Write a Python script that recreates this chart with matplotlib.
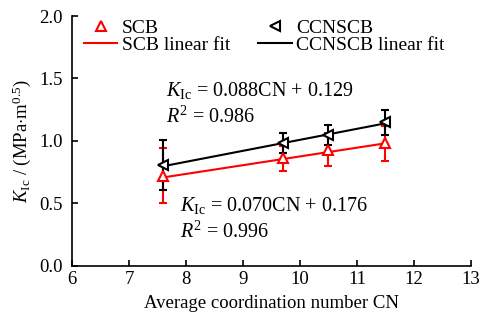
import matplotlib
matplotlib.use("Agg")
import matplotlib.pyplot as plt
import numpy as np

plt.rcParams['font.family'] = ['Liberation Serif', 'DejaVu Serif']
plt.rcParams['mathtext.fontset'] = 'custom'
plt.rcParams['mathtext.rm'] = 'Liberation Serif'
plt.rcParams['mathtext.it'] = 'Liberation Serif:italic'

cn = [7.6, 9.7, 10.5, 11.5]
scb = [0.72, 0.86, 0.93, 0.98]
scb_err = [0.22, 0.10, 0.13, 0.14]
ccn = [0.81, 0.98, 1.05, 1.15]
ccn_err = [0.20, 0.08, 0.08, 0.10]
scb_fit = (0.070, 0.176)
ccn_fit = (0.088, 0.129)

fig = plt.figure(figsize=(4.81, 3.27), dpi=100)
ax = fig.add_axes([0.150, 0.187, 0.829, 0.764])

x = np.array(cn)
ax.errorbar(cn, scb, yerr=scb_err, fmt='none', ecolor='red', elinewidth=1.5, capsize=3, capthick=1.5, zorder=2)
ax.errorbar(cn, ccn, yerr=ccn_err, fmt='none', ecolor='black', elinewidth=1.5, capsize=3, capthick=1.5, zorder=2)
ax.plot(cn, scb, linestyle='none', marker='^', markersize=7, markerfacecolor='white', markeredgecolor='red', markeredgewidth=1.5, label='SCB', zorder=4)
ax.plot(x, scb_fit[0] * x + scb_fit[1], color='red', lw=1.5, label='SCB linear fit', zorder=3)
ax.plot(cn, ccn, linestyle='none', marker='<', markersize=7, markerfacecolor='white', markeredgecolor='black', markeredgewidth=1.5, label='CCNSCB', zorder=4)
ax.plot(x, ccn_fit[0] * x + ccn_fit[1], color='black', lw=1.5, label='CCNSCB linear fit', zorder=3)

ax.set_xlim(6, 13)
ax.set_ylim(0, 2.0)
ax.set_xticks(range(6, 14))
ax.set_yticks([0.0, 0.5, 1.0, 1.5, 2.0])
ax.set_yticklabels(['0.0', '0.5', '1.0', '1.5', '2.0'])
ax.tick_params(direction='in', length=4, width=1.2, labelsize=13.5)
ax.tick_params(axis='y', pad=7)
for s in ['top', 'right']:
    ax.spines[s].set_visible(False)
for s in ['left', 'bottom']:
    ax.spines[s].set_linewidth(1.2)

ax.set_xlabel('Average coordination number CN', fontsize=13.5, labelpad=5)
ax.set_ylabel(r'$K_{\mathrm{Ic}}$ / (MPa$\cdot$m$^{0.5}$)', fontsize=13.5, labelpad=4)

eq = dict(fontsize=14.5, va='center')
ax.text(7.65, 1.40, r'$K_{\mathrm{Ic}}$ = 0.088CN + 0.129', **eq)
ax.text(7.65, 1.19, r'$R^2$ = 0.986', **eq)
ax.text(7.9, 0.48, r'$K_{\mathrm{Ic}}$ = 0.070CN + 0.176', **eq)
ax.text(7.9, 0.27, r'$R^2$ = 0.996', **eq)

ax.legend(ncol=2, loc='upper left', frameon=False, fontsize=14, handlelength=1.7,
          handleheight=0.6, labelspacing=0.0, columnspacing=1.45, handletextpad=0.25,
          borderaxespad=0.0, borderpad=0.2, bbox_to_anchor=(0.02, 1.0))

fig.savefig('out.png', dpi=100)
